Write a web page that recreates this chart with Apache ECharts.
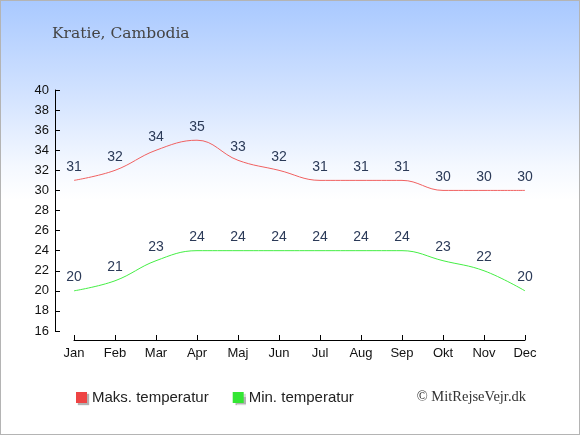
<!DOCTYPE html>
<html>
<head>
<meta charset="utf-8">
<script src="https://cdn.jsdelivr.net/npm/echarts@6/dist/echarts.min.js"></script>
<style>
  html, body { margin: 0; padding: 0; }
  #chart { width: 580px; height: 435px; box-sizing: border-box; border: 1px solid #b4b4b4;
    background: linear-gradient(to bottom, #a9c9ff 0%, #d3e3ff 22%, #f4f8ff 38%, #ffffff 46%, #ffffff 100%); }
</style>
</head>
<body>
<div id="chart"></div>
<script>
var months = ["Jan", "Feb", "Mar", "Apr", "Maj", "Jun", "Jul", "Aug", "Sep", "Okt", "Nov", "Dec"];
var maxTemp = [31, 32, 34, 35, 33, 32, 31, 31, 31, 30, 30, 30];
var minTemp = [20, 21, 23, 24, 24, 24, 24, 24, 24, 23, 22, 20];

var myChart = echarts.init(document.getElementById("chart"));
var labelStyle = {
    show: true,
    position: "top",
    distance: 6,
    color: "#2b3a58",
    fontSize: 14,
    fontFamily: "Liberation Sans"
};
var shadow = { shadowColor: "rgba(0,0,0,0.3)", shadowOffsetX: 2, shadowOffsetY: 2, shadowBlur: 1 };
var option = {
    animation: false,
    title: {
        text: "Kratie, Cambodia",
        left: 46,
        top: 20,
        textStyle: { fontFamily: "DejaVu Serif", fontWeight: "normal", fontSize: 15.5, color: "#444" }
    },
    grid: { left: 73, right: 54, top: 89, bottom: 103 },
    legend: {
        bottom: 24,
        left: 70,
        itemWidth: 11,
        itemHeight: 11,
        itemGap: 24,
        icon: "rect",
        textStyle: { fontFamily: "Liberation Sans", fontSize: 15, color: "#222" },
        data: [
            { name: "Maks. temperatur", itemStyle: Object.assign({ color: "#ee4444", opacity: 1 }, shadow) },
            { name: "Min. temperatur", itemStyle: Object.assign({ color: "#33e633", opacity: 1 }, shadow) }
        ]
    },
    graphic: [{
        type: "text",
        right: 53,
        bottom: 29,
        style: { text: "© MitRejseVejr.dk", font: "14.5px 'Liberation Serif'", fill: "#333" }
    }],
    xAxis: {
        type: "category",
        boundaryGap: false,
        data: months,
        offset: 9,
        axisLine: { lineStyle: { color: "#000" } },
        axisTick: { alignWithLabel: true, length: 5, inside: true, lineStyle: { color: "#000" } },
        axisLabel: { color: "#111", fontSize: 13, fontFamily: "Liberation Sans", margin: 7 },
        splitLine: { show: false }
    },
    yAxis: {
        type: "value",
        min: 16,
        max: 40,
        interval: 2,
        offset: 19,
        axisLine: { show: true, lineStyle: { color: "#000" } },
        axisTick: { show: true, length: 5, inside: true, lineStyle: { color: "#000" } },
        axisLabel: { color: "#111", fontSize: 13, fontFamily: "Liberation Sans", margin: 6 },
        splitLine: { show: false }
    },
    series: [
        {
            name: "Maks. temperatur",
            type: "line",
            data: maxTemp,
            smooth: 0.4,
            symbol: "circle",
            symbolSize: 1,
            showSymbol: true,
            itemStyle: { color: "rgba(238,68,68,0)", borderWidth: 0 },
            lineStyle: { width: 1, color: "#f06060" },
            label: labelStyle
        },
        {
            name: "Min. temperatur",
            type: "line",
            data: minTemp,
            smooth: 0.4,
            symbol: "circle",
            symbolSize: 1,
            showSymbol: true,
            itemStyle: { color: "rgba(51,230,51,0)", borderWidth: 0 },
            lineStyle: { width: 1, color: "#44ee44" },
            label: labelStyle
        }
    ]
};
myChart.setOption(option);
window.addEventListener("resize", function () {
    myChart.resize();
});
</script>
</body>
</html>
